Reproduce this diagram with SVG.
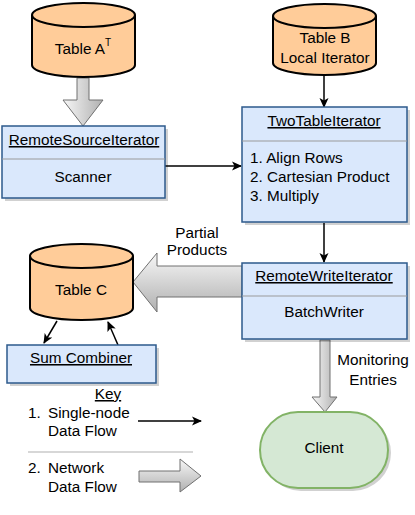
<svg xmlns="http://www.w3.org/2000/svg" width="415" height="515" viewBox="0 0 415 515">
<style>
text{font-family:"Liberation Sans",Arial,sans-serif;font-size:15.3px;fill:#000}
.c{text-anchor:middle}
.u{text-decoration:underline}
.cyl{fill:#ffcc99;stroke:#000;stroke-width:2}
.box{fill:#dae8fc;stroke:#2d5a8c;stroke-width:1.5}
.sh{fill:#000;opacity:0.18}
.div{stroke:#9a9a9a;stroke-width:1.2}
.ln{stroke:#000;stroke-width:1.5;fill:none}
.ga{fill:url(#g);stroke:#707070;stroke-width:1}
</style>
<defs>
<linearGradient id="g" x1="0" y1="0" x2="0" y2="1">
<stop offset="0" stop-color="#f7f7f7"/>
<stop offset="1" stop-color="#b0b0b0"/>
</linearGradient>
<linearGradient id="gh" x1="0" y1="0" x2="1" y2="0">
<stop offset="0" stop-color="#f7f7f7"/>
<stop offset="1" stop-color="#b0b0b0"/>
</linearGradient>
<marker id="ar" viewBox="0 0 10 10" refX="9" refY="5" markerWidth="10" markerHeight="10" markerUnits="userSpaceOnUse" orient="auto">
<path d="M0,0.5 L10,5 L0,9.5 L2.5,5 Z" fill="#000"/>
</marker>
</defs>

<g id="connectors">
<path class="ga" style="fill:url(#gh)" d="M77,78 L89,78 L89,100 L103,100 L83,126 L63,100 L77,100 Z"/>
<line class="ln" x1="165" y1="166" x2="241" y2="166" marker-end="url(#ar)"/>
<line class="ln" x1="324" y1="76" x2="324" y2="107" marker-end="url(#ar)"/>
<line class="ln" x1="324" y1="223" x2="324" y2="262" marker-end="url(#ar)"/>
<path class="ga" d="M242,266 L157,266 L157,253 L133,282 L157,312 L157,297 L242,297 Z"/>
<path class="ga" style="fill:url(#gh)" d="M320,340 L330,340 L330,397 L337,397 L325,412 L312,397 L320,397 Z"/>
<line class="ln" x1="57" y1="321" x2="44" y2="343" marker-end="url(#ar)"/>
<line class="ln" x1="118" y1="345" x2="108" y2="322" marker-end="url(#ar)"/>
</g>

<g id="tableA">
<path class="cyl" d="M32,15 A51.5,12 0 0 1 135,15 L135,65 A51.5,12 0 0 1 32,65 Z"/>
<path class="cyl" style="fill:none" d="M32,15 A51.5,12 0 0 0 135,15"/>
<text class="c" x="83" y="54">Table A<tspan font-size="10" dy="-8">T</tspan></text>
</g>

<g id="tableB">
<path class="cyl" d="M273,16 A51.5,12 0 0 1 376,16 L376,63 A51.5,12 0 0 1 273,63 Z"/>
<path class="cyl" style="fill:none" d="M273,16 A51.5,12 0 0 0 376,16"/>
<text class="c" x="325" y="43">Table B</text>
<text class="c" x="325" y="63">Local Iterator</text>
</g>

<g id="remoteSourceIterator">
<rect class="sh" x="5" y="129" width="163" height="72"/>
<rect class="box" x="2" y="126" width="163" height="72"/>
<line class="div" x1="2" y1="159" x2="165" y2="159"/>
<text class="c u" x="84" y="145">RemoteSourceIterator</text>
<text class="c" x="83" y="182">Scanner</text>
</g>

<g id="twoTableIterator">
<rect class="sh" x="245" y="110" width="165" height="115"/>
<rect class="box" x="242" y="107" width="165" height="115"/>
<line class="div" x1="242" y1="141" x2="407" y2="141"/>
<text class="c u" x="324" y="126">TwoTableIterator</text>
<text x="250" y="163">1. Align Rows</text>
<text x="250" y="182">2. Cartesian Product</text>
<text x="250" y="201">3. Multiply</text>
</g>

<g id="remoteWriteIterator">
<rect class="sh" x="245" y="266" width="165" height="76"/>
<rect class="box" x="242" y="263" width="165" height="76"/>
<line class="div" x1="242" y1="296" x2="407" y2="296"/>
<text class="c u" x="324" y="281">RemoteWriteIterator</text>
<text class="c" x="324" y="317">BatchWriter</text>
</g>

<g id="tableC">
<path class="cyl" d="M30,256 A51.5,12 0 0 1 133,256 L133,308 A51.5,12 0 0 1 30,308 Z"/>
<path class="cyl" style="fill:none" d="M30,256 A51.5,12 0 0 0 133,256"/>
<text class="c" x="81" y="295">Table C</text>
</g>

<g id="sumCombiner">
<rect class="sh" x="10" y="348" width="149" height="38"/>
<rect class="box" x="7" y="345" width="149" height="38"/>
<text class="c u" x="81" y="363">Sum Combiner</text>
</g>

<g id="client">
<rect x="260" y="412" width="128" height="76" rx="38" ry="38" fill="#000" opacity="0.18" transform="translate(3,3)"/>
<rect x="260" y="412" width="128" height="76" rx="38" ry="38" fill="#d5e8d4" stroke="#82b366" stroke-width="2"/>
<text class="c" x="324" y="453">Client</text>
</g>

<g id="labels">
<text class="c" x="197" y="238">Partial</text>
<text class="c" x="197" y="255">Products</text>
<text class="c" x="373" y="365">Monitoring</text>
<text class="c" x="373" y="385">Entries</text>
</g>

<g id="key">
<text class="c u" x="108" y="399">Key</text>
<text x="28" y="418">1.<tspan x="48">Single-node</tspan></text>
<text x="48" y="436">Data Flow</text>
<line class="ln" x1="138" y1="421" x2="201" y2="421" marker-end="url(#ar)"/>
<line x1="28" y1="452" x2="193" y2="452" stroke="#b0b0b0" stroke-width="1.2"/>
<text x="28" y="473">2.<tspan x="48">Network</tspan></text>
<text x="48" y="492">Data Flow</text>
<path class="ga" d="M139,471 L180,471 L180,459 L201,476 L180,492 L180,482 L139,482 Z"/>
</g>
</svg>
